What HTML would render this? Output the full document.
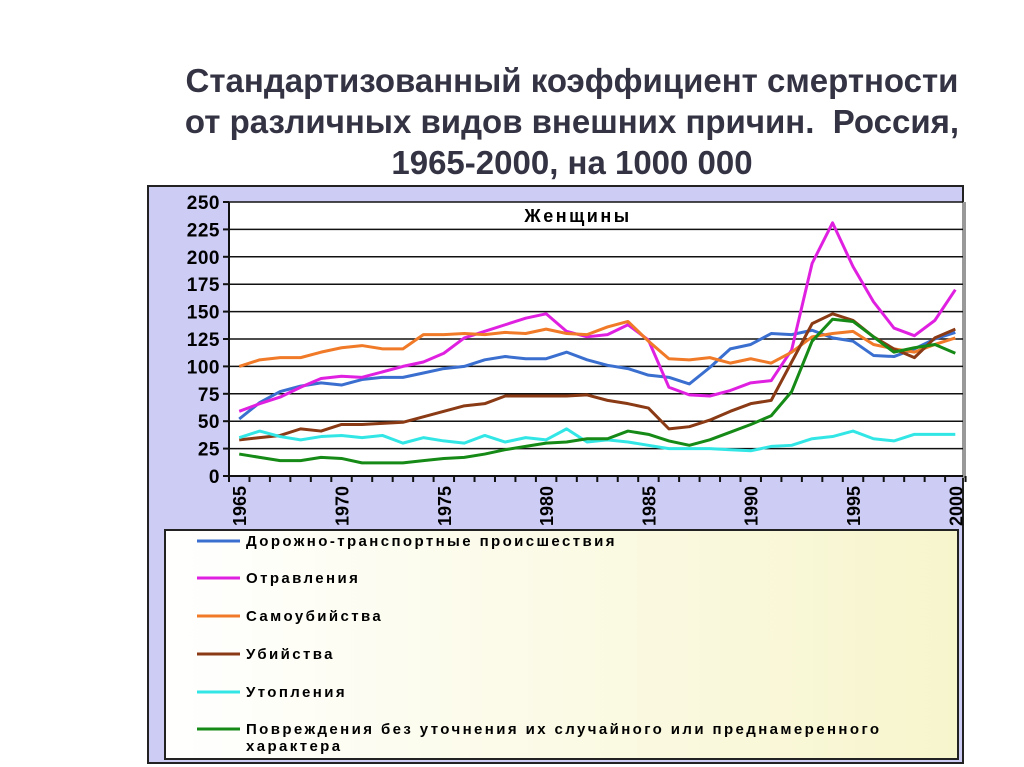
<!DOCTYPE html>
<html><head><meta charset="utf-8">
<style>
body{margin:0;width:1024px;height:767px;background:#fff;overflow:hidden;font-family:"Liberation Sans","DejaVu Sans",sans-serif}
#title{position:absolute;left:72px;width:1000px;top:60px;text-align:center;font-weight:bold;font-size:33px;line-height:41px;color:#333344}
</style></head><body>
<div id="title">Стандартизованный коэффициент смертности<br>от различных видов внешних причин.&nbsp; Россия,<br>1965-2000, на 1000 000</div>
<svg id="chart" width="1024" height="767" style="position:absolute;left:0;top:0">
<defs><linearGradient id="lg" x1="0" x2="1" y1="0" y2="0"><stop offset="0" stop-color="#ffffff"/><stop offset="1" stop-color="#f7f5cc"/></linearGradient></defs>
<rect x="148" y="186" width="815" height="577" fill="#ccccf5" stroke="#222" stroke-width="2"/>
<rect x="229" y="202" width="734" height="274" fill="#fff"/>
<rect x="962" y="202" width="4" height="276" fill="#999"/>
<g id="grid"></g><g id="axes"></g><g id="series"></g>
<text x="578" y="222" text-anchor="middle" font-weight="bold" font-size="18" letter-spacing="2.5">Женщины</text>
<rect x="165" y="530" width="793" height="229" fill="url(#lg)" stroke="#222" stroke-width="2"/>
<g id="legend"></g>
</svg>
<script>
const years=[];for(let y=1965;y<=2000;y++)years.push(y);
const yTicks=[0,25,50,75,100,125,150,175,200,225,250];
const xLabels=[1965,1970,1975,1980,1985,1990,1995,2000];
const road=[52,67,77,82,85,83,88,90,90,94,98,100,106,109,107,107,113,106,101,98,92,90,84,99,116,120,130,129,133,126,123,110,109,116,125,131];
const poison=[59,66,72,81,89,91,90,95,100,104,112,126,132,138,144,148,132,127,129,138,124,81,74,73,78,85,87,115,194,231,191,159,135,128,142,170];
const suicide=[100,106,108,108,113,117,119,116,116,129,129,130,129,131,130,134,130,129,136,141,123,107,106,108,103,107,103,113,127,130,132,120,116,113,120,126];
const murder=[33,35,37,43,41,47,47,48,49,54,59,64,66,73,73,73,73,74,69,66,62,43,45,51,59,66,69,104,139,148,142,127,116,108,126,134];
const drown=[35,41,36,33,36,37,35,37,30,35,32,30,37,31,35,33,43,31,33,31,28,25,25,25,24,23,27,28,34,36,41,34,32,38,38,38];
const injury=[20,17,14,14,17,16,12,12,12,14,16,17,20,24,27,30,31,34,34,41,38,32,28,33,40,47,55,77,123,143,141,127,113,117,120,112];
const seriesNames=["Дорожно-транспортные происшествия","Отравления","Самоубийства","Убийства","Утопления","Повреждения без уточнения их случайного или преднамеренного"];
const seriesData=[road,poison,suicide,murder,drown,injury];
const colors=["#3a6fd0","#e020e0","#f07a28","#8a3a14","#33e6e6","#168a16"];
const keys=["road","poison","suicide","murder","drown","injury"];
const NS="http://www.w3.org/2000/svg";
const X0=229,DX=20.46,Y0=476,YS=274/250;
const xc=i=>X0+DX*(i+0.5), yv=v=>Y0-v*YS;
function mk(t,a,p){const e=document.createElementNS(NS,t);for(const k in a)e.setAttribute(k,a[k]);p.appendChild(e);return e;}
const grid=document.getElementById('grid'),axes=document.getElementById('axes');
yTicks.forEach(v=>{
 const l=mk('line',{x1:X0,x2:963,y1:yv(v),y2:yv(v),stroke:'#111','stroke-width':1.5},grid);
 
 
 mk('line',{x1:X0-6,x2:X0,y1:yv(v),y2:yv(v),stroke:'#111','stroke-width':2},axes);
 const t=mk('text',{x:X0-9,y:yv(v)+7,'text-anchor':'end','font-size':19,'font-weight':'bold','letter-spacing':'0.5'},axes);
 t.textContent=v;
 
 
});
mk('line',{x1:X0,x2:X0,y1:202,y2:Y0,stroke:'#111','stroke-width':2},axes);
mk('line',{x1:X0,x2:963,y1:Y0,y2:Y0,stroke:'#111','stroke-width':2},axes);
for(let i=0;i<=years.length;i++)mk('line',{x1:X0+DX*i,x2:X0+DX*i,y1:Y0,y2:Y0+6,stroke:'#111','stroke-width':2},axes);
xLabels.forEach(y=>{
 const i=years.indexOf(y),x=xc(i)+7,yy=526;
 const t=mk('text',{x:x,y:yy,transform:`rotate(-90 ${x} ${yy})`,'font-size':18,'font-weight':'bold'},axes);
 t.textContent=y;
 
 
});
const sg=document.getElementById('series'),lg=document.getElementById('legend');
const ly=[541,578,616,654,692,729];
seriesData.forEach((d,s)=>{
 const p=mk('polyline',{points:d.map((v,i)=>xc(i)+','+yv(v)).join(' '),fill:'none',stroke:colors[s],'stroke-width':3,'stroke-linejoin':'round'},sg);
 
 
 mk('line',{x1:197,x2:240,y1:ly[s],y2:ly[s],stroke:colors[s],'stroke-width':3},lg);
 const t=mk('text',{x:246,y:ly[s]+5,'font-size':15,'font-weight':'bold','letter-spacing':'2.4'},lg);
 t.textContent=seriesNames[s];
 
 
});
const t2=mk('text',{x:246,y:751,'font-size':15,'font-weight':'bold','letter-spacing':'2.4'},lg);
t2.textContent="характера";


</script>
</body></html>
